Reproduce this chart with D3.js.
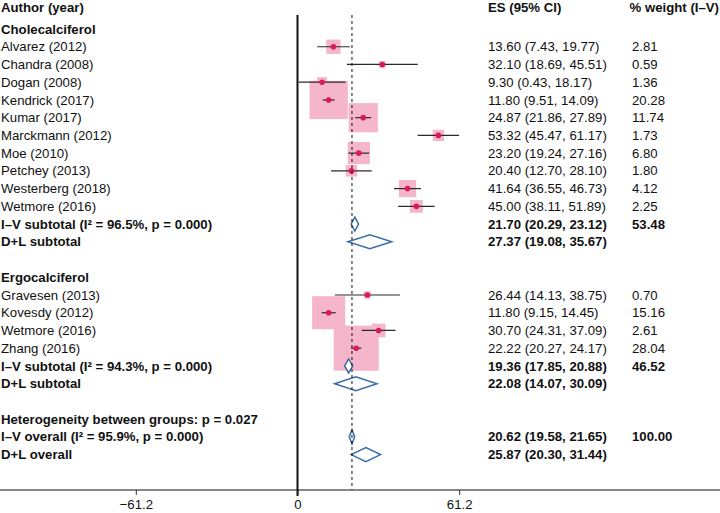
<!DOCTYPE html>
<html><head><meta charset="utf-8">
<script src="https://cdn.jsdelivr.net/npm/d3@7"></script>
<style>body{margin:0;background:#fff}svg{display:block}text{font-family:"Liberation Sans",Arial,sans-serif;font-size:13.2px;fill:#111}</style>
</head><body>
<script>
// ---- data ----
const groupNames = ["Cholecalciferol", "Ergocalciferol"];
const choleStudies = ["Alvarez (2012)","Chandra (2008)","Dogan (2008)","Kendrick (2017)","Kumar (2017)","Marckmann (2012)","Moe (2010)","Petchey (2013)","Westerberg (2018)","Wetmore (2016)"];
const choleES = [13.60,32.10,9.30,11.80,24.87,53.32,23.20,20.40,41.64,45.00];
const choleLo = [7.43,18.69,0.43,9.51,21.86,45.47,19.24,12.70,36.55,38.11];
const choleHi = [19.77,45.51,18.17,14.09,27.89,61.17,27.16,28.10,46.73,51.89];
const choleW  = [2.81,0.59,1.36,20.28,11.74,1.73,6.80,1.80,4.12,2.25];
const ergoStudies = ["Gravesen (2013)","Kovesdy (2012)","Wetmore (2016)","Zhang (2016)"];
const ergoES = [26.44,11.80,30.70,22.22];
const ergoLo = [14.13,9.15,24.31,20.27];
const ergoHi = [38.75,14.45,37.09,24.17];
const ergoW  = [0.70,15.16,2.61,28.04];
// subtotals: [label, es, lo, hi, weight]
const choleIV = ["I\u2013V subtotal (I\u00B2 = 96.5%, p = 0.000)", 21.70, 20.29, 23.12, "53.48"];
const choleDL = ["D+L subtotal", 27.37, 19.08, 35.67, ""];
const ergoIV  = ["I\u2013V subtotal (I\u00B2 = 94.3%, p = 0.000)", 19.36, 17.85, 20.88, "46.52"];
const ergoDL  = ["D+L subtotal", 22.08, 14.07, 30.09, ""];
const hetText = "Heterogeneity between groups: p = 0.027";
const overallIV = ["I\u2013V overall (I\u00B2 = 95.9%, p = 0.000)", 20.62, 19.58, 21.65, "100.00"];
const overallDL = ["D+L overall", 25.87, 20.30, 31.44, ""];
const xTicks = [-61.2, 0, 61.2];
const headers = ["Author (year)", "ES (95% CI)", "% weight (I\u2013V)"];

// ---- build rows ----
const rows = [];
function addGroup(name, st, es, lo, hi, w, iv, dl) {
  rows.push({type:"group", label:name});
  st.forEach((s,i)=>rows.push({type:"study", label:s, es:es[i], lo:lo[i], hi:hi[i], w:w[i]}));
  rows.push({type:"diamond", label:iv[0], es:iv[1], lo:iv[2], hi:iv[3], wt:iv[4]});
  rows.push({type:"diamond", label:dl[0], es:dl[1], lo:dl[2], hi:dl[3], wt:dl[4]});
  rows.push({type:"blank"});
}
addGroup(groupNames[0], choleStudies, choleES, choleLo, choleHi, choleW, choleIV, choleDL);
addGroup(groupNames[1], ergoStudies, ergoES, ergoLo, ergoHi, ergoW, ergoIV, ergoDL);
rows.push({type:"group", label:hetText});
rows.push({type:"diamond", label:overallIV[0], es:overallIV[1], lo:overallIV[2], hi:overallIV[3], wt:overallIV[4]});
rows.push({type:"diamond", label:overallDL[0], es:overallDL[1], lo:overallDL[2], hi:overallDL[3], wt:overallDL[4]});

const W = 720, H = 513;
const svg = d3.select("body").append("svg").attr("width", W).attr("height", H);
const x = d3.scaleLinear().domain([-61.2, 61.2]).range([135.8, 459.2]);
const y = d3.scaleLinear().domain([0, 24]).range([29, 454.6]);
const boxSize = d3.scaleSqrt().domain([0, 20.28]).range([0, 38.3]);
const fmt = d3.format(".2f");
const axisY = 490;

// boxes
rows.forEach((r,i)=>{ r.y = y(i); });
const studies = rows.filter(r=>r.type==="study");
svg.append("g").selectAll("rect").data(studies).join("rect")
  .attr("x", d=>x(d.es)-boxSize(d.w)/2).attr("y", d=>d.y-boxSize(d.w)/2)
  .attr("width", d=>boxSize(d.w)).attr("height", d=>boxSize(d.w))
  .attr("fill", "#f5b5ca");

// CI lines
svg.append("g").selectAll("line").data(studies).join("line")
  .attr("x1", d=>x(d.lo)).attr("x2", d=>x(d.hi)).attr("y1", d=>d.y).attr("y2", d=>d.y)
  .attr("stroke", "#2a2a2a").attr("stroke-width", 1.2);

// diamonds
const diamonds = rows.filter(r=>r.type==="diamond");
svg.append("g").selectAll("path").data(diamonds).join("path")
  .attr("d", d=>`M${x(d.lo)},${d.y}L${x(d.es)},${d.y-7}L${x(d.hi)},${d.y}L${x(d.es)},${d.y+7}Z`)
  .attr("fill", "#fff").attr("stroke", "#3a6ea8").attr("stroke-width", 1.5);

// points
svg.append("g").selectAll("circle").data(studies).join("circle")
  .attr("cx", d=>x(d.es)).attr("cy", d=>d.y).attr("r", 2.8).attr("fill", "#d81b5a");

// null line (x=0)
svg.append("line").attr("x1", x(0)).attr("x2", x(0)).attr("y1", 15).attr("y2", axisY+6)
  .attr("stroke", "#111").attr("stroke-width", 2);
// overall dashed line
svg.append("line").attr("x1", x(overallIV[1])).attr("x2", x(overallIV[1])).attr("y1", 15).attr("y2", axisY)
  .attr("stroke", "#111").attr("stroke-width", 1).attr("stroke-dasharray", "3,3");

// axis
const ax = svg.append("g").attr("transform", `translate(0,${axisY})`)
  .call(d3.axisBottom(x).tickValues(xTicks).tickFormat(d=>d<0?"\u2212"+Math.abs(d):d3.format("")(d)).tickSize(5).tickPadding(5));
ax.select(".domain").remove();
ax.selectAll("text").attr("font-size", 13.2).attr("font-family", '"Liberation Sans",Arial,sans-serif').attr("fill", "#111");
ax.selectAll(".tick line").attr("stroke", "#333");
svg.append("line").attr("x1", 0).attr("x2", W).attr("y1", axisY).attr("y2", axisY).attr("stroke", "#111").attr("stroke-width", 1.2);

// headers
const hx = [1, 488, 632];
svg.append("text").attr("x", hx[0]).attr("y", 7).attr("dy", "0.35em").attr("font-weight", "bold").text(headers[0]);
svg.append("text").attr("x", hx[1]).attr("y", 7).attr("dy", "0.35em").attr("font-weight", "bold").text(headers[1]);
svg.append("text").attr("x", 719).attr("y", 7).attr("dy", "0.35em").attr("text-anchor", "end")
  .attr("font-weight", "bold").text(headers[2]);

// row labels
const textRows = rows.filter(r=>r.type!=="blank");
svg.append("g").selectAll("text").data(textRows).join("text")
  .attr("x", 1).attr("y", d=>d.y).attr("dy", "0.35em")
  .attr("font-weight", d=>d.type==="study"?"normal":"bold").text(d=>d.label);
const esRows = rows.filter(r=>r.type==="study"||r.type==="diamond");
svg.append("g").selectAll("text").data(esRows).join("text")
  .attr("x", hx[1]).attr("y", d=>d.y).attr("dy", "0.35em")
  .attr("font-weight", d=>d.type==="study"?"normal":"bold")
  .text(d=>`${fmt(d.es)} (${fmt(d.lo)}, ${fmt(d.hi)})`);
svg.append("g").selectAll("text").data(esRows).join("text")
  .attr("x", hx[2]).attr("y", d=>d.y).attr("dy", "0.35em")
  .attr("font-weight", d=>d.type==="study"?"normal":"bold")
  .text(d=>d.type==="study"?fmt(d.w):d.wt);
</script>
</body></html>
